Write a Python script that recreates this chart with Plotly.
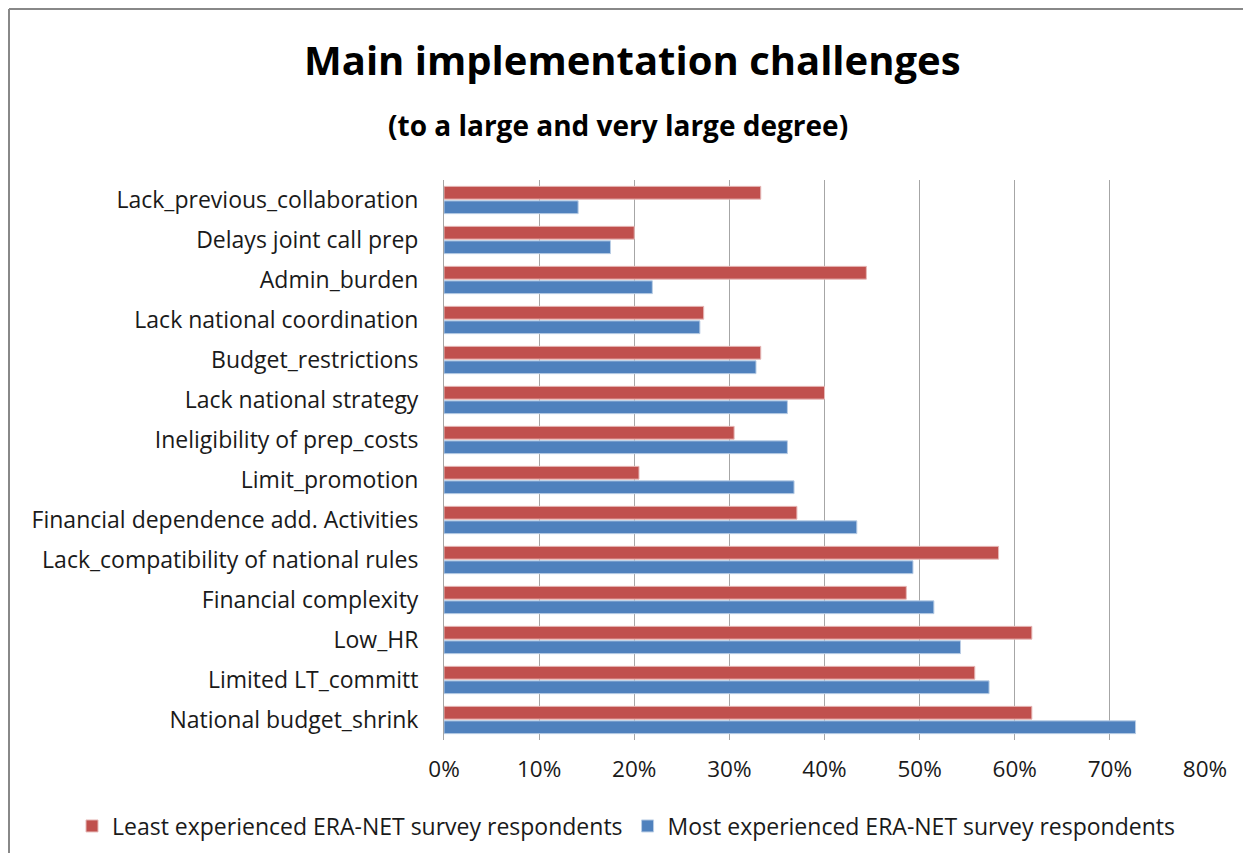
import plotly.graph_objects as go

categories = [
    "Lack_previous_collaboration",
    "Delays joint call prep",
    "Admin_burden",
    "Lack national coordination",
    "Budget_restrictions",
    "Lack national strategy",
    "Ineligibility of prep_costs",
    "Limit_promotion",
    "Financial dependence add. Activities",
    "Lack_compatibility of national rules",
    "Financial complexity",
    "Low_HR",
    "Limited LT_committ",
    "National budget_shrink",
]
least_experienced = [0.333, 0.200, 0.444, 0.273, 0.333, 0.400, 0.305, 0.205,
                     0.371, 0.583, 0.486, 0.618, 0.558, 0.618]
most_experienced = [0.141, 0.175, 0.219, 0.269, 0.328, 0.361, 0.361, 0.368,
                    0.434, 0.493, 0.515, 0.543, 0.573, 0.727]
series_names = ["Least experienced ERA-NET survey respondents",
                "Most experienced ERA-NET survey respondents"]
x_ticks = [0, 0.1, 0.2, 0.3, 0.4, 0.5, 0.6, 0.7, 0.8]

FONT = "Open Sans"
W, H = 1243, 845
L, R, T, B = 436, 46, 172, 113
PW, PH = W - L - R, H - T - B


def px(xf):
    return (xf - L) / PW


def py(yf):
    return (H - B - yf) / PH


fig = go.Figure()
fig.add_trace(go.Bar(y=categories, x=least_experienced, orientation="h",
                     name=series_names[0],
                     marker=dict(color="#C0504D", line=dict(color="#E6B9B8", width=1))))
fig.add_trace(go.Bar(y=categories, x=most_experienced, orientation="h",
                     name=series_names[1],
                     marker=dict(color="#4F81BD", line=dict(color="#B9CDE5", width=1))))

fig.update_layout(
    width=W, height=H, autosize=False,
    paper_bgcolor="white", plot_bgcolor="white",
    margin=dict(l=L, r=R, t=T, b=B, autoexpand=False),
    barmode="group", bargap=0.275, bargroupgap=0.12,
    font=dict(family=FONT, size=20, color="#1a1a1a"),
    showlegend=True,
    legend=dict(orientation="h", x=px(64), xanchor="left", y=py(818), yanchor="middle",
                font=dict(size=23, family=FONT, color="#1a1a1a"), traceorder="normal",
                itemwidth=30),
    xaxis=dict(range=[0, 0.8], tickvals=x_ticks, tickformat=".0%", showgrid=True,
               gridcolor="#A6A6A6", gridwidth=1, zeroline=False, ticks="",
               tickfont=dict(size=22.5), showline=False, ticklabelstandoff=13),
    yaxis=dict(autorange="reversed", showline=True, linecolor="#A6A6A6", linewidth=1,
               ticks="", tickfont=dict(size=23), ticklabelstandoff=20),
    annotations=[
        dict(text="<b>Main implementation challenges</b>", xref="paper", yref="paper",
             x=px(624), y=py(51), xanchor="center", yanchor="middle",
             showarrow=False, font=dict(size=40, family=FONT, color="black")),
        dict(text="<b>(to a large and very large degree)</b>", xref="paper", yref="paper",
             x=px(610), y=py(117), xanchor="center", yanchor="middle",
             showarrow=False, font=dict(size=28, family=FONT, color="black")),
    ],
    shapes=[
        dict(type="line", xref="paper", yref="paper", x0=px(1), x1=px(W + 20),
             y0=py(1), y1=py(1), line=dict(color="#888888", width=2)),
        dict(type="line", xref="paper", yref="paper", x0=px(1), x1=px(1),
             y0=py(1), y1=py(H + 20), line=dict(color="#888888", width=2)),
    ],
)

fig.write_html("out.html")
